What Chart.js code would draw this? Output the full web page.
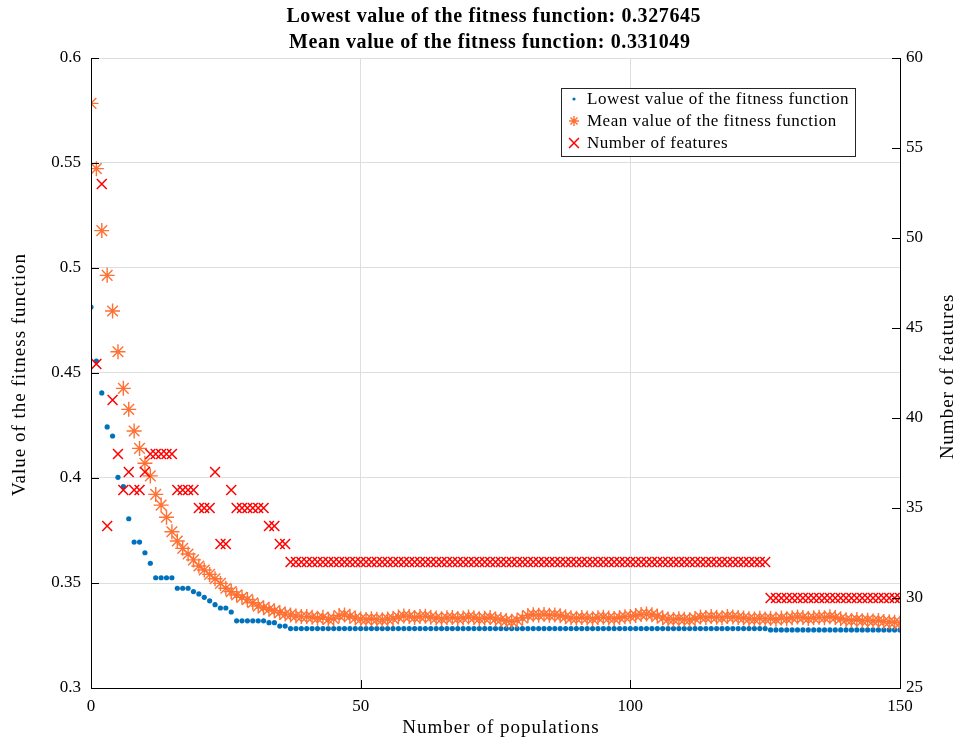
<!DOCTYPE html>
<html>
<head>
<meta charset="utf-8">
<script src="https://cdn.jsdelivr.net/npm/chart.js@4.4.0/dist/chart.umd.min.js"></script>
<style>
html,body{margin:0;padding:0;background:#ffffff;}
canvas{display:block;}
</style>
</head>
<body>
<canvas id="c" width="958" height="740"></canvas>
<script>
// ---------------- data ----------------
const titleLines = [
  'Lowest value of the fitness function: 0.327645',
  'Mean value of the fitness function: 0.331049'
];
const seriesNames = [
  'Lowest value of the fitness function',
  'Mean value of the fitness function',
  'Number of features'
];
const xAxisTitle = 'Number of populations';
const yLeftTitle = 'Value of the fitness function';
const yRightTitle = 'Number of features';

const populationTicks = [0, 50, 100, 150];
const fitnessTicks = [0.3, 0.35, 0.4, 0.45, 0.5, 0.55, 0.6];
const featureTicks = [25, 30, 35, 40, 45, 50, 55, 60];

// lowest fitness value per population (0..150)
const lowestFitness = [
  0.4814,0.4557,0.4405,0.4243,0.4200,0.4003,0.3959,0.3806,0.3695,0.3695,
  0.3644,0.3594,0.3525,0.3525,0.3525,0.3525,0.3475,0.3475,0.3475,0.3459,
  0.3448,0.3432,0.3415,0.3397,0.3381,0.3381,0.3362,0.3320,0.3320,0.3320,
  0.3320,0.3320,0.3320,0.3311,0.3311,0.3295,0.3295,0.3283,0.3283,0.3283,
  0.3283,0.3283,0.3283,0.3283,0.3283,0.3283,0.3283,0.3283,0.3283,0.3283,
  0.3283,0.3283,0.3283,0.3283,0.3283,0.3283,0.3283,0.3283,0.3283,0.3283,
  0.3283,0.3283,0.3283,0.3283,0.3283,0.3283,0.3283,0.3283,0.3283,0.3283,
  0.3283,0.3283,0.3283,0.3283,0.3283,0.3283,0.3283,0.3283,0.3283,0.3283,
  0.3283,0.3283,0.3283,0.3283,0.3283,0.3283,0.3283,0.3283,0.3283,0.3283,
  0.3283,0.3283,0.3283,0.3283,0.3283,0.3283,0.3283,0.3283,0.3283,0.3283,
  0.3283,0.3283,0.3283,0.3283,0.3283,0.3283,0.3283,0.3283,0.3283,0.3283,
  0.3283,0.3283,0.3283,0.3283,0.3283,0.3283,0.3283,0.3283,0.3283,0.3283,
  0.3283,0.3283,0.3283,0.3283,0.3283,0.3283,0.327645,0.327645,0.327645,0.327645,
  0.327645,0.327645,0.327645,0.327645,0.327645,0.327645,0.327645,0.327645,0.327645,0.327645,
  0.327645,0.327645,0.327645,0.327645,0.327645,0.327645,0.327645,0.327645,0.327645,0.327645,
  0.327645
];

// mean fitness value per population (0..150)
const meanFitness = [
  0.5784,0.5473,0.5178,0.4965,0.4795,0.4601,0.4427,0.4327,0.4224,0.4141,
  0.4070,0.4010,0.3922,0.3871,0.3813,0.3744,0.3700,0.3665,0.3638,0.3610,
  0.3581,0.3562,0.3541,0.3520,0.3498,0.3475,0.3459,0.3443,0.3432,0.3422,
  0.3406,0.3390,0.3382,0.3375,0.3368,0.3359,0.3352,0.3348,0.3343,0.3340,
  0.3340,0.3337,0.3332,0.3337,0.3327,0.3330,0.3345,0.3348,0.3342,0.3333,
  0.3328,0.3326,0.3330,0.3327,0.3325,0.3329,0.3331,0.3338,0.3343,0.3341,
  0.3336,0.3340,0.3342,0.3337,0.3333,0.3330,0.3334,0.3336,0.3331,0.3333,
  0.3338,0.3335,0.3330,0.3332,0.3336,0.3329,0.3326,0.3321,0.3318,0.3323,
  0.3333,0.3345,0.3349,0.3347,0.3350,0.3346,0.3348,0.3344,0.3339,0.3334,
  0.3332,0.3336,0.3333,0.3330,0.3335,0.3337,0.3333,0.3331,0.3336,0.3339,
  0.3341,0.3345,0.3350,0.3352,0.3349,0.3343,0.3334,0.3328,0.3326,0.3330,
  0.3327,0.3325,0.3331,0.3338,0.3336,0.3340,0.3337,0.3334,0.3341,0.3338,
  0.3336,0.3333,0.3330,0.3328,0.3332,0.3329,0.3331,0.3327,0.3333,0.3330,
  0.3335,0.3338,0.3336,0.3331,0.3334,0.3337,0.3335,0.3339,0.3336,0.3330,
  0.3325,0.3322,0.3326,0.3320,0.3323,0.3319,0.3322,0.3317,0.3315,0.3313,
  0.3310
];

// number of selected features per population (0..150)
const numFeatures = [
  null,43,53,34,41,38,36,37,36,36,
  37,38,38,38,38,38,36,36,36,36,
  35,35,35,37,33,33,36,35,35,35,
  35,35,35,34,34,33,33,32,32,32,
  32,32,32,32,32,32,32,32,32,32,
  32,32,32,32,32,32,32,32,32,32,
  32,32,32,32,32,32,32,32,32,32,
  32,32,32,32,32,32,32,32,32,32,
  32,32,32,32,32,32,32,32,32,32,
  32,32,32,32,32,32,32,32,32,32,
  32,32,32,32,32,32,32,32,32,32,
  32,32,32,32,32,32,32,32,32,32,
  32,32,32,32,32,32,30,30,30,30,
  30,30,30,30,30,30,30,30,30,30,
  30,30,30,30,30,30,30,30,30,30,
  30
];

// ---------------- chart ----------------
const FONT = "'Liberation Serif', 'Times New Roman', serif";
const BLUE = '#0072BD';
const ORANGE = '#FF7033';
const RED = '#FF0000';
const GRID = '#dedede';

const toPoints = arr => arr.map((v, i) => ({x: i, y: v}));

const styles = [
  {pointStyle: 'circle', radius: 2.6, borderWidth: 0, color: BLUE, legendRadius: 1.6},
  {pointStyle: 'star', radius: 7.5, borderWidth: 1.4, color: ORANGE, legendRadius: 5},
  {pointStyle: 'crossRot', radius: 7, borderWidth: 1.5, color: RED, legendRadius: 7}
];

function drawSpacedText(ctx, text, x, y, font, spacing, align) {
  ctx.font = font;
  ctx.textAlign = align;
  ctx.textBaseline = 'middle';
  if ('letterSpacing' in ctx) {
    ctx.letterSpacing = spacing + 'px';
    // centre correction for trailing spacing
    const dx = align === 'center' ? spacing / 2 : 0;
    ctx.fillText(text, x + dx, y);
    ctx.letterSpacing = '0px';
  } else {
    ctx.fillText(text, x, y);
  }
}

const frameAndText = {
  id: 'frameAndText',
  afterDraw(chart) {
    const ctx = chart.ctx;
    const a = chart.chartArea;
    const sx = chart.scales.x, yl = chart.scales.y, yr = chart.scales.y2;
    ctx.save();
    ctx.strokeStyle = '#000';
    ctx.lineWidth = 1;
    ctx.beginPath();
    // axis lines
    ctx.moveTo(a.left + 0.5, a.top); ctx.lineTo(a.left + 0.5, a.bottom + 0.5);
    ctx.moveTo(a.left, a.bottom + 0.5); ctx.lineTo(a.right, a.bottom + 0.5);
    ctx.moveTo(a.right + 0.5, a.top); ctx.lineTo(a.right + 0.5, a.bottom + 0.5);
    // inward ticks
    populationTicks.forEach(v => {
      const px = Math.round(sx.getPixelForValue(v)) + 0.5;
      ctx.moveTo(px, a.bottom); ctx.lineTo(px, a.bottom - 8);
    });
    fitnessTicks.forEach(v => {
      const py = Math.round(yl.getPixelForValue(v)) + 0.5;
      ctx.moveTo(a.left, py); ctx.lineTo(a.left + 8, py);
    });
    featureTicks.forEach(v => {
      const py = Math.round(yr.getPixelForValue(v)) + 0.5;
      ctx.moveTo(a.right, py); ctx.lineTo(a.right - 8, py);
    });
    ctx.stroke();

    ctx.fillStyle = '#000';
    const cx = (a.left + a.right) / 2;
    const cy = (a.top + a.bottom) / 2;
    // title
    drawSpacedText(ctx, titleLines[0], cx - 2, 17, 'bold 20px ' + FONT, 0.6, 'center');
    drawSpacedText(ctx, titleLines[1], cx - 6, 43, 'bold 20px ' + FONT, 0.6, 'center');
    // x axis title
    drawSpacedText(ctx, xAxisTitle, cx + 5, 728, '19px ' + FONT, 1, 'center');
    // left axis title
    ctx.save();
    ctx.translate(20, cy + 2);
    ctx.rotate(-Math.PI / 2);
    drawSpacedText(ctx, yLeftTitle, 0, 0, '19px ' + FONT, 1, 'center');
    ctx.restore();
    // right axis title (reads bottom to top)
    ctx.save();
    ctx.translate(948, cy + 4);
    ctx.rotate(-Math.PI / 2);
    drawSpacedText(ctx, yRightTitle, 0, 0, '19px ' + FONT, 1, 'center');
    ctx.restore();
    ctx.restore();

    // legend
    ctx.save();
    const bx = 561.5, by = 88.5, bw = 294, bh = 68;
    ctx.fillStyle = '#fff';
    ctx.fillRect(bx, by, bw, bh);
    ctx.strokeStyle = '#262626';
    ctx.lineWidth = 1;
    ctx.strokeRect(bx, by, bw, bh);
    seriesNames.forEach((name, i) => {
      const ly = 99 + i * 22;
      const st = styles[i];
      ctx.fillStyle = st.color;
      ctx.strokeStyle = st.color;
      ctx.lineWidth = st.borderWidth || 1;
      Chart.helpers.drawPoint(ctx, {
        pointStyle: st.pointStyle, radius: st.legendRadius, rotation: 0,
        borderWidth: st.borderWidth
      }, 574, ly);
      ctx.fillStyle = '#000';
      drawSpacedText(ctx, name, 587, ly + 1, '17px ' + FONT, 0.5, 'left');
    });
    ctx.restore();
  }
};

const ds = (label, arr, st, axis, order) => ({
  label: label,
  data: toPoints(arr),
  yAxisID: axis,
  showLine: false,
  pointStyle: st.pointStyle,
  pointRadius: st.radius,
  pointHoverRadius: st.radius,
  pointBorderWidth: st.borderWidth,
  pointBackgroundColor: st.color,
  pointBorderColor: st.color,
  backgroundColor: st.color,
  borderColor: st.color,
  clip: 0,
  order: order
});

new Chart(document.getElementById('c'), {
  type: 'scatter',
  data: {
    datasets: [
      ds(seriesNames[2], numFeatures, styles[2], 'y2', 1),
      ds(seriesNames[1], meanFitness, styles[1], 'y', 2),
      ds(seriesNames[0], lowestFitness, styles[0], 'y', 3)
    ]
  },
  options: {
    responsive: false,
    animation: false,
    devicePixelRatio: 1,
    layout: {padding: {top: 58, left: 0, right: 0, bottom: 0}},
    plugins: {
      legend: {display: false},
      tooltip: {enabled: false},
      title: {display: false}
    },
    scales: {
      x: {
        type: 'linear',
        position: 'bottom',
        min: 0, max: 150,
        afterBuildTicks: s => { s.ticks = populationTicks.map(v => ({value: v})); },
        afterFit: s => { s.height = 52; },
        ticks: {
          color: '#000', padding: 8, maxRotation: 0,
          font: {family: FONT, size: 17},
          callback: v => String(v)
        },
        grid: {color: GRID, drawTicks: false},
        border: {display: true, color: '#000'},
        title: {display: false}
      },
      y: {
        type: 'linear',
        position: 'left',
        min: 0.3, max: 0.6,
        afterBuildTicks: s => { s.ticks = fitnessTicks.map(v => ({value: v})); },
        afterFit: s => { s.width = 91; },
        ticks: {
          color: '#000', padding: 10,
          font: {family: FONT, size: 17},
          callback: v => String(v)
        },
        grid: {color: GRID, drawTicks: false},
        border: {display: true, color: '#000'},
        title: {display: false}
      },
      y2: {
        type: 'linear',
        position: 'right',
        min: 25, max: 60,
        afterBuildTicks: s => { s.ticks = featureTicks.map(v => ({value: v})); },
        afterFit: s => { s.width = 58; },
        ticks: {
          color: '#000', padding: 6,
          font: {family: FONT, size: 17},
          callback: v => String(v)
        },
        grid: {display: false, drawTicks: false},
        border: {display: true, color: '#000'}
      }
    }
  },
  plugins: [frameAndText]
});
</script>
</body>
</html>
